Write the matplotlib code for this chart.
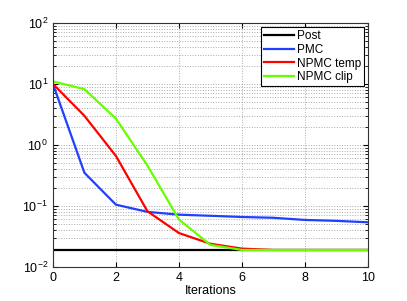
import matplotlib
matplotlib.use('Agg')
import matplotlib.pyplot as plt
import numpy as np

plt.rcParams['font.family'] = ['Liberation Sans', 'DejaVu Sans']
plt.rcParams['font.size'] = 9

iters = [0, 1, 2, 3, 4, 5, 6, 7, 8, 9, 10]
post = [0.019] * 11
pmc = [10.0, 0.35, 0.105, 0.08, 0.072, 0.069, 0.066, 0.064, 0.059, 0.057, 0.054]
npmc_temp = [10.0, 3.0, 0.66, 0.082, 0.036, 0.024, 0.020, 0.019, 0.019, 0.019, 0.019]
npmc_clip = [11.0, 8.2, 2.7, 0.46, 0.06, 0.023, 0.019, 0.019, 0.019, 0.019, 0.019]

fig = plt.figure(figsize=(4.07, 3.01), dpi=100)
ax = fig.add_axes([0.130, 0.113, 0.774, 0.811])

ax.semilogy(iters, post, color='black', lw=1.6, label='Post')
ax.semilogy(iters, pmc, color='#2040ff', lw=1.6, label='PMC')
ax.semilogy(iters, npmc_temp, color='#ff0000', lw=1.6, label='NPMC temp')
ax.semilogy(iters, npmc_clip, color='#66ff00', lw=1.6, label='NPMC clip')

ax.set_xlim(0, 10)
ax.set_ylim(1e-2, 1e2)
ax.set_xticks([0, 2, 4, 6, 8, 10])
ax.set_yticks([1e-2, 1e-1, 1e0, 1e1, 1e2])
ax.grid(True, which='major', ls=':', color='#aaaaaa', lw=0.7)
ax.grid(True, which='minor', axis='y', ls=':', color='#aaaaaa', lw=0.7)
ax.tick_params(which='both', direction='in', top=True, right=True, labelsize=9)
ax.set_xlabel('Iterations', labelpad=1)
for s in ax.spines.values():
    s.set_color('#333333')

leg = ax.legend(loc='upper right', fancybox=False, framealpha=1, edgecolor='black',
                borderpad=0.25, handlelength=2.5, labelspacing=0.15, handletextpad=0.25,
                borderaxespad=0.35, fontsize=8.5)
leg.get_frame().set_linewidth(0.8)

fig.savefig('out.png', dpi=100)
